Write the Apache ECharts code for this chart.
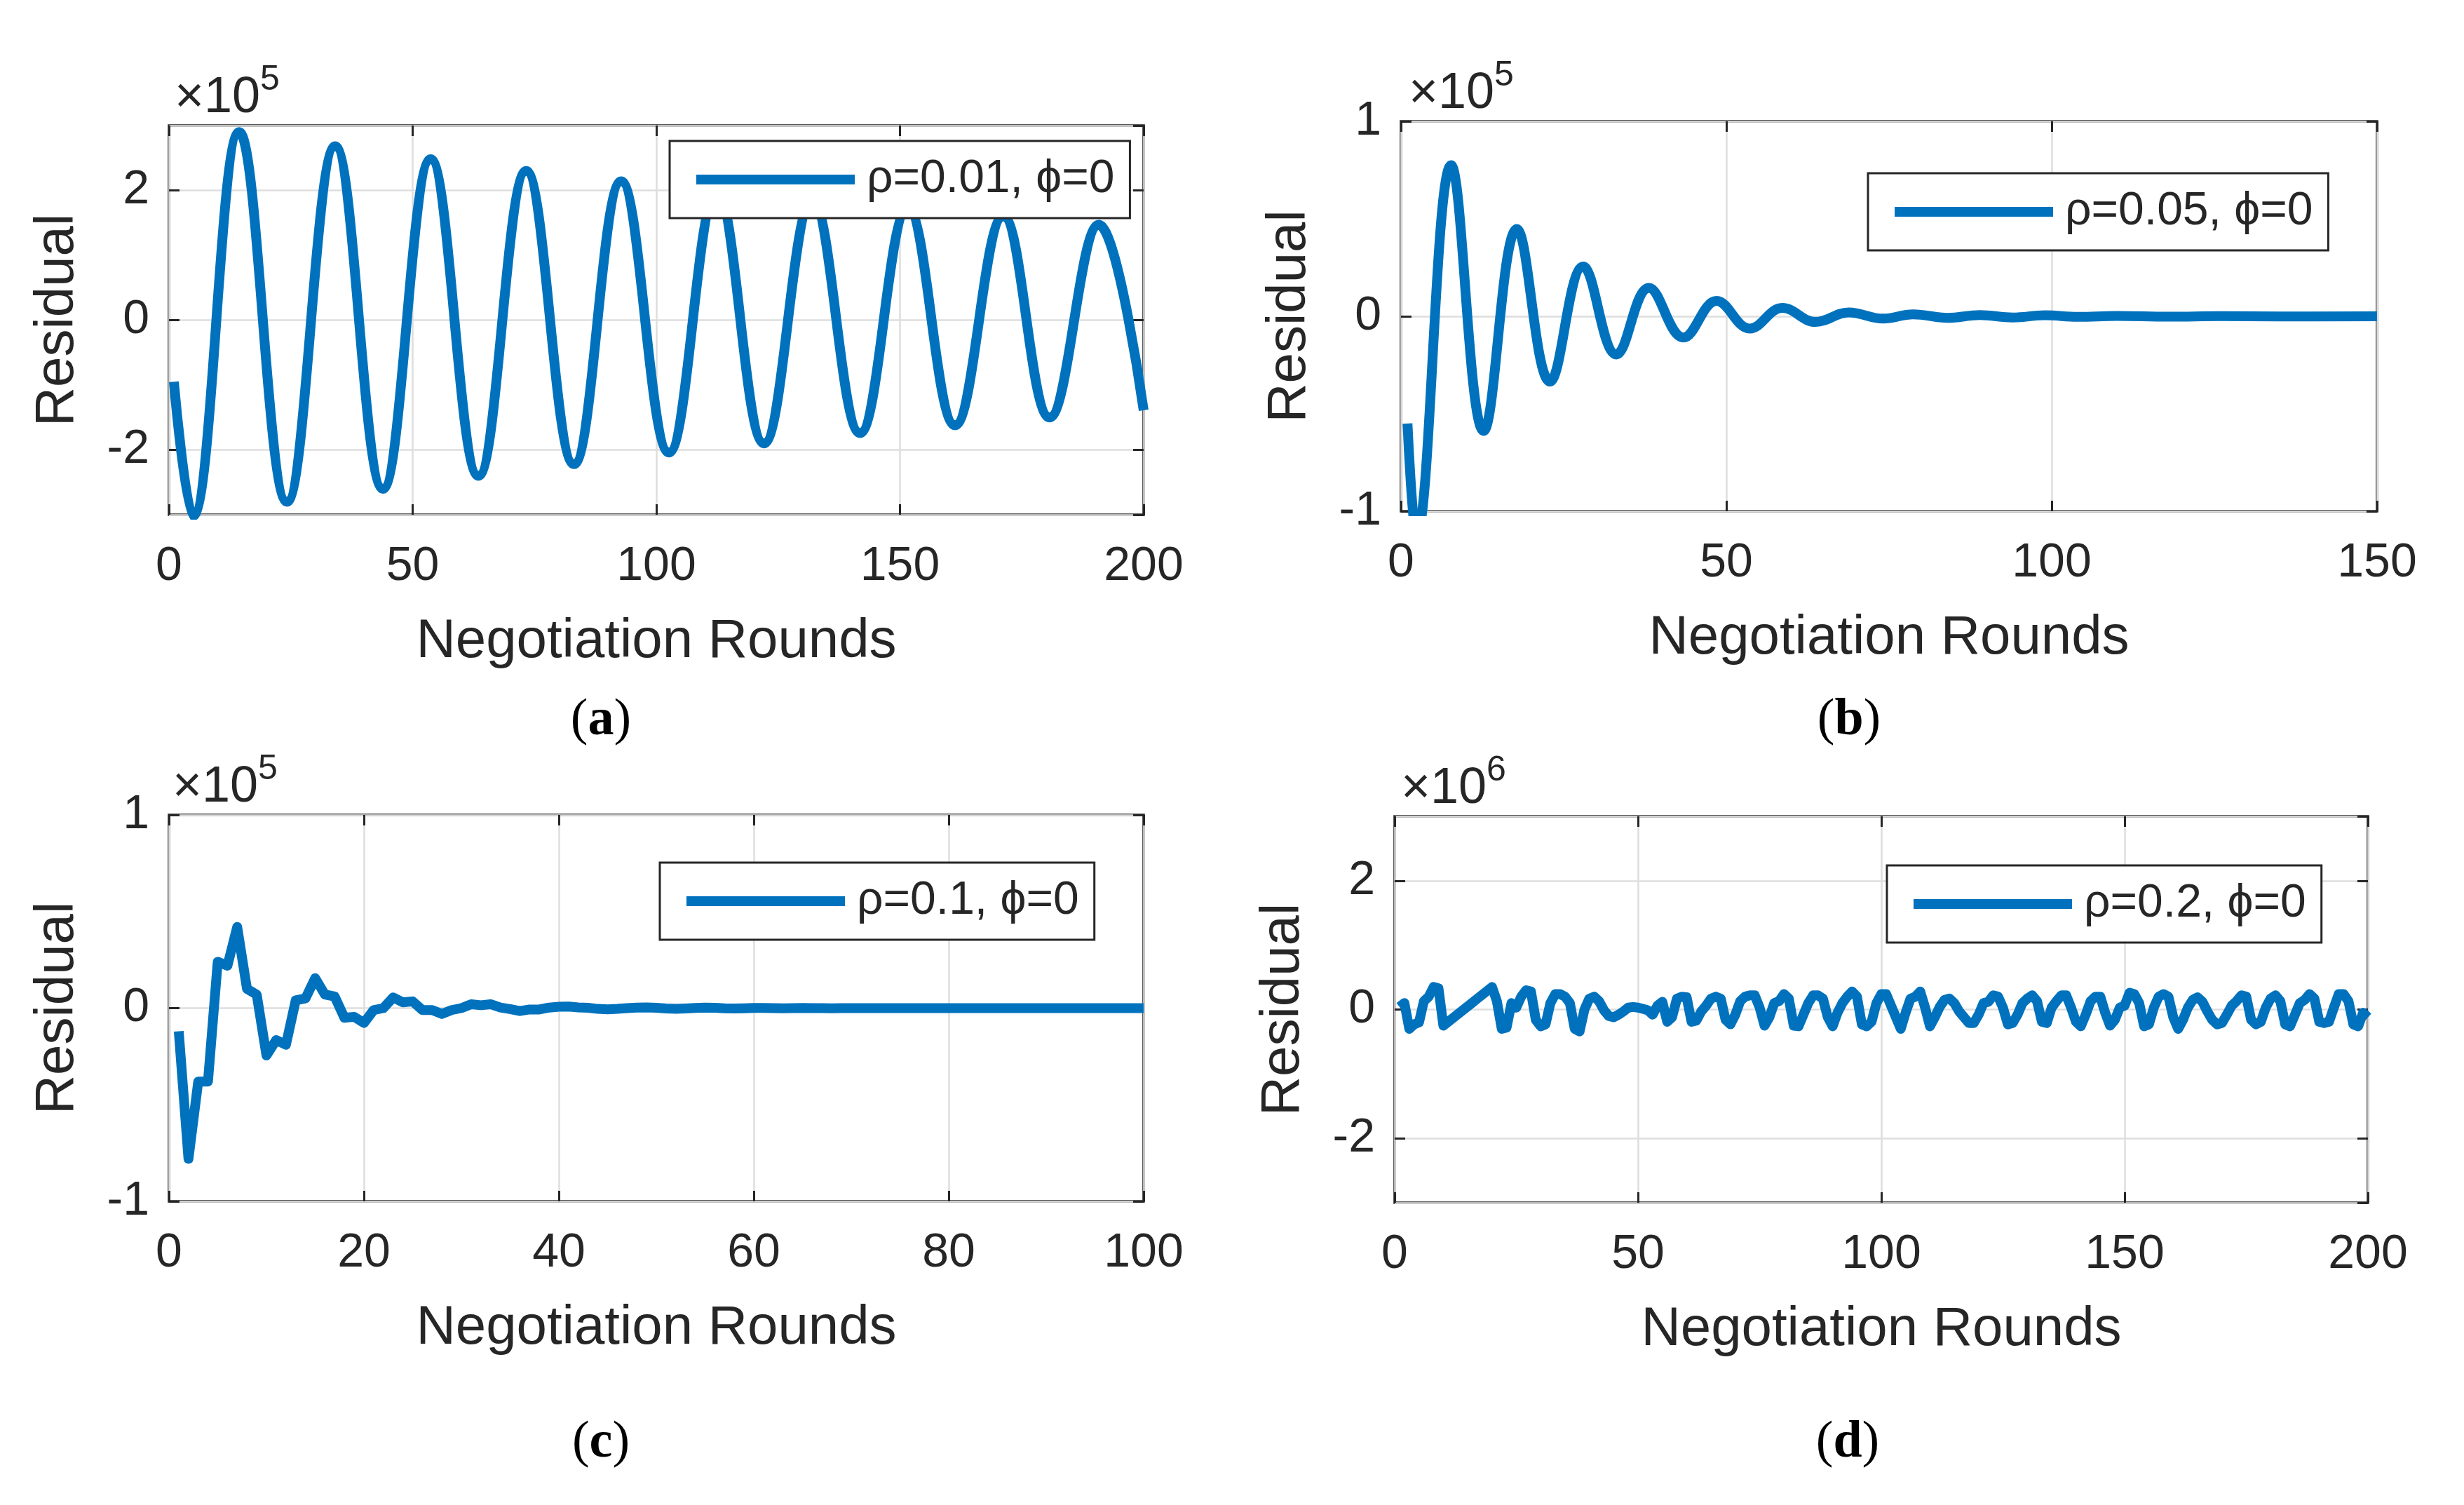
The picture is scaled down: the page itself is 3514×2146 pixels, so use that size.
<!DOCTYPE html>
<html><head><meta charset="utf-8">
<script src="https://cdn.jsdelivr.net/npm/echarts/dist/echarts.min.js"></script>
<style>html,body{margin:0;padding:0;background:#fff}#c{width:3514px;height:2146px}</style>
</head><body><div id="c"></div>
<script>
// ---------------- data ----------------
// (a) rho=0.01 : start, peaks / troughs of the oscillation, end (units x1e5)
const roundsA = [1, 4.9, 14.4, 24.2, 34.1, 43.9, 53.7, 63.5, 73.3, 83.1, 92.8, 102.6, 112.4, 122.1, 132, 141.8, 151.6, 161.3, 171.2, 180.7, 190.8, 200];
const residualA = [-0.95, -3.02, 2.9, -2.8, 2.68, -2.6, 2.48, -2.4, 2.3, -2.22, 2.14, -2.04, 1.99, -1.9, 1.86, -1.74, 1.73, -1.62, 1.6, -1.5, 1.47, -1.39];

// (b) rho=0.05 : start, peaks / troughs, tail (units x1e5)
const roundsB = [1, 2.4, 7.7, 12.7, 17.8, 22.9, 28.0, 33.1, 38.1, 43.4, 48.5, 53.6, 58.6, 63.7, 68.8, 74.1, 78.7, 84.0, 89.0, 94.0, 99.0, 104, 110, 118, 126, 135, 150];
const residualB = [-0.55, -1.12, 0.775, -0.588, 0.448, -0.335, 0.255, -0.196, 0.146, -0.109, 0.079, -0.063, 0.043, -0.029, 0.02, -0.012, 0.01, -0.008, 0.006, -0.006, 0.005, -0.003, 0.002, -0.002, 0.001, -0.001, 0];

// (c) rho=0.1, one value per round 1..100 (units x1e5)
const residualC = [
  -0.12, -0.78, -0.38, -0.38, 0.24, 0.22, 0.42, 0.10, 0.07, -0.245,
  -0.165, -0.19, 0.04, 0.05, 0.155, 0.07, 0.06, -0.05, -0.045, -0.077,
  -0.01, 0.0, 0.055, 0.03, 0.035, -0.01, -0.01, -0.03, -0.01, 0.0,
  0.02, 0.015, 0.02, 0.003, -0.005, -0.015, -0.007, -0.007, 0.003, 0.007,
  0.008, 0.004, 0.002, -0.004, -0.006, -0.004, 0.0, 0.003, 0.004, 0.002,
  -0.002, -0.004, -0.002, 0.001, 0.003, 0.002, -0.001, -0.002, -0.001, 0.001,
  0.001, 0, -0.001, 0, 0.001, 0, 0, -0.001, 0, 0,
  0, 0, 0, 0, 0, 0, 0, 0, 0, 0,
  0, 0, 0, 0, 0, 0, 0, 0, 0, 0,
  0, 0, 0, 0, 0, 0, 0, 0, 0, 0
];

// (d) rho=0.2, one value per round 1..200 (units x1e6)
const residualD = [
  0.04, 0.1, -0.3, -0.23, -0.2, 0.13, 0.2, 0.35, 0.33, -0.25,
  -0.19, -0.13, -0.07, -0.01, 0.05, 0.11, 0.17, 0.23, 0.29, 0.35,
  0.13, -0.3, -0.28, 0.1, 0.03, 0.2, 0.3, 0.28, -0.16, -0.26,
  -0.23, 0.1, 0.24, 0.24, 0.2, 0.1, -0.3, -0.34, 0.0, 0.17,
  0.2, 0.13, -0.01, -0.1, -0.12, -0.08, -0.03, 0.03, 0.04, 0.03,
  0.01, -0.01, -0.08, 0.06, 0.12, -0.19, -0.12, 0.17, 0.2, 0.19,
  -0.19, -0.17, -0.03, 0.06, 0.17, 0.2, 0.17, -0.16, -0.23, -0.08,
  0.13, 0.2, 0.22, 0.22, 0.03, -0.25, -0.12, 0.1, 0.13, 0.24,
  0.17, -0.25, -0.26, -0.08, 0.1, 0.22, 0.22, 0.17, -0.12, -0.26,
  -0.05, 0.1, 0.2, 0.28, 0.2, -0.23, -0.26, -0.19, 0.1, 0.24,
  0.24, 0.06, -0.12, -0.3, -0.05, 0.17, 0.2, 0.28, 0.03, -0.26,
  -0.12, 0.04, 0.15, 0.17, 0.1, -0.03, -0.12, -0.21, -0.21, -0.08,
  0.1, 0.12, 0.22, 0.2, 0.03, -0.23, -0.21, -0.08, 0.1, 0.17,
  0.22, 0.13, -0.19, -0.21, 0.03, 0.13, 0.22, 0.22, 0.03, -0.19,
  -0.26, -0.08, 0.13, 0.2, 0.2, -0.05, -0.25, -0.16, 0.03, 0.06,
  0.26, 0.24, 0.1, -0.26, -0.23, 0.03, 0.2, 0.24, 0.2, -0.12,
  -0.3, -0.16, 0.03, 0.15, 0.19, 0.12, -0.03, -0.16, -0.23, -0.21,
  -0.08, 0.06, 0.13, 0.22, 0.2, -0.16, -0.23, -0.19, 0.03, 0.17,
  0.22, 0.13, -0.23, -0.26, -0.08, 0.1, 0.15, 0.24, 0.17, -0.19,
  -0.21, -0.19, 0.03, 0.24, 0.24, 0.13, -0.23, -0.26, -0.05, -0.12
];
const roundsC = residualC.map((v, i) => i + 1);
const roundsD = residualD.map((v, i) => i + 1);

const seriesNames = ['ρ=0.01, ϕ=0', 'ρ=0.05, ϕ=0', 'ρ=0.1, ϕ=0', 'ρ=0.2, ϕ=0'];
const exponents = ['5', '5', '5', '6'];
const panelLetters = ['a', 'b', 'c', 'd'];
const xRanges = [[0, 200, 50], [0, 150, 50], [0, 100, 20], [0, 200, 50]];
const yRanges = [[-3, 3], [-1, 1], [-1, 1], [-3, 3]];
const xTitle = 'Negotiation Rounds';
const yTitle = 'Residual';

// ---------------- layout / style ----------------
const FONT = '"Liberation Sans", Arial, Helvetica, sans-serif';
const SERIF = '"Liberation Serif", "Times New Roman", serif';
const INK = '#262626';
const BLUE = '#0072BD';
const grids = [
  {left: 241, top: 179, width: 1390, height: 555},
  {left: 1998, top: 173, width: 1392, height: 556},
  {left: 241, top: 1162, width: 1390, height: 551},
  {left: 1989, top: 1164, width: 1388, height: 551}
];
const legendPos = [
  {left: 955, top: 201}, {left: 2664, top: 247}, {left: 941, top: 1230}, {left: 2691, top: 1234}
];
const expPos = [
  {x: 249, y: 140}, {x: 2009, y: 134}, {x: 246, y: 1123}, {x: 1998, y: 1125}
];
const letterPos = [
  {x: 857, y: 1028}, {x: 2637, y: 1028}, {x: 857, y: 2058}, {x: 2635, y: 2058}
];

const dataSets = [
  roundsA.map((r, i) => [r, residualA[i]]),
  roundsB.map((r, i) => [r, residualB[i]]),
  roundsC.map((r, i) => [r, residualC[i]]),
  roundsD.map((r, i) => [r, residualD[i]])
];
const smoothFlags = [0.4, 0.4, false, false];

const option = {
  animation: false,
  backgroundColor: '#fff',
  grid: [], xAxis: [], yAxis: [], series: [], legend: [], graphic: []
};

for (let i = 0; i < 4; i++) {
  option.grid.push(Object.assign({
    show: true, borderColor: INK, borderWidth: 3.5, backgroundColor: '#fff',
    containLabel: false, outerBoundsMode: 'none'
  }, grids[i]));
  const [xmin, xmax, xint] = xRanges[i];
  const [ymin, ymax] = yRanges[i];
  const yInt = (ymax - ymin) === 2 ? {interval: 1} : {splitNumber: 3};
  const tickStyle = {show: true, inside: true, length: 15, lineStyle: {color: INK, width: 3}};
  const noLine = {show: false, onZero: false};
  option.xAxis.push({
    type: 'value', gridIndex: i, position: 'bottom', min: xmin, max: xmax, interval: xint,
    axisLine: noLine, axisTick: tickStyle,
    axisLabel: {show: true, margin: 40, color: INK, fontFamily: FONT, fontSize: 68,
      alignMinLabel: 'center', alignMaxLabel: 'center', hideOverlap: false},
    splitLine: {show: true, lineStyle: {color: '#dedede', width: 2.5}},
    name: xTitle, nameLocation: 'middle', nameGap: 142,
    nameTextStyle: {color: INK, fontFamily: FONT, fontSize: 78}
  });
  option.xAxis.push({
    type: 'value', gridIndex: i, position: 'top', min: xmin, max: xmax, interval: xint,
    axisLine: noLine, axisTick: tickStyle, axisLabel: {show: false}, splitLine: {show: false}
  });
  const hideEnds = (ymax - ymin) !== 2;
  option.yAxis.push(Object.assign({
    type: 'value', gridIndex: i, position: 'left', min: ymin, max: ymax,
    axisLine: noLine, axisTick: tickStyle,
    axisLabel: {show: true, margin: 28, color: INK, fontFamily: FONT, fontSize: 68,
      showMinLabel: !hideEnds, showMaxLabel: !hideEnds, hideOverlap: false},
    splitLine: {show: true, lineStyle: {color: '#dedede', width: 2.5}},
    name: yTitle, nameLocation: 'middle', nameGap: 120, nameRotate: 90,
    nameTextStyle: {color: INK, fontFamily: FONT, fontSize: 78}
  }, yInt));
  option.yAxis.push(Object.assign({
    type: 'value', gridIndex: i, position: 'right', min: ymin, max: ymax,
    axisLine: noLine, axisTick: tickStyle, axisLabel: {show: false}, splitLine: {show: false}
  }, yInt));

  option.series.push({
    name: seriesNames[i], type: 'line', xAxisIndex: 2 * i, yAxisIndex: 2 * i,
    data: dataSets[i], showSymbol: false, symbol: 'none', smooth: smoothFlags[i], clip: true,
    lineStyle: {color: BLUE, width: 14, join: 'round', cap: 'butt'},
    itemStyle: {color: BLUE}, z: 3
  });

  option.legend.push(Object.assign({
    data: [seriesNames[i]], orient: 'horizontal', selectedMode: false,
    icon: 'rect', itemWidth: 226, itemHeight: 14,
    padding: [22, 22, 22, 38], borderColor: INK, borderWidth: 3, backgroundColor: '#fff',
    borderRadius: 0,
    itemStyle: {color: BLUE},
    textStyle: {color: INK, fontFamily: FONT, fontSize: 66, padding: [0, 0, 0, 12]},
    z: 10
  }, legendPos[i]));

  option.graphic.push({
    type: 'text', z: 20,
    style: {x: expPos[i].x, y: expPos[i].y, text: '×10', fill: INK,
      font: '72px ' + FONT, align: 'left', verticalAlign: 'middle'}
  });
  option.graphic.push({
    type: 'text', z: 20,
    style: {x: expPos[i].x + 122, y: expPos[i].y - 26, text: exponents[i], fill: INK,
      font: '50px ' + FONT, align: 'left', verticalAlign: 'middle'}
  });
  option.graphic.push({
    type: 'text', z: 20,
    style: {x: letterPos[i].x, y: letterPos[i].y, align: 'center', verticalAlign: 'middle',
      text: '{p|(}{b|' + panelLetters[i] + '}{p|)}',
      rich: {
        p: {fontFamily: SERIF, fontSize: 74, fill: '#000'},
        b: {fontFamily: SERIF, fontSize: 74, fontWeight: 'bold', fill: '#000'}
      }}
  });
}

const chart = echarts.init(document.getElementById('c'), null, {renderer: 'canvas'});
chart.setOption(option);
</script></body></html>
